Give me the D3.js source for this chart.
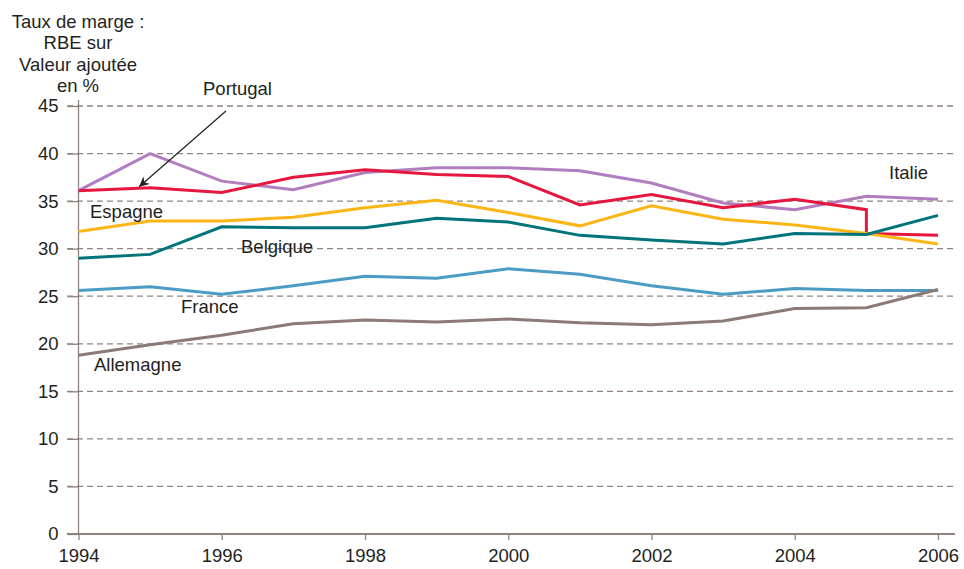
<!doctype html>
<html lang="fr">
<head>
    <meta charset="UTF-8">
    <title>Taux de marge</title>
    <style>
        body { margin: 0; background: #fff; }
        text { font-family: "Liberation Sans", Arial, sans-serif; fill: #231f20; }
    </style>
</head>
<body>
<div id="chart"></div>
<script src="https://d3js.org/d3.v7.min.js"></script>
<script>
    // Data
    const years = [1994, 1995, 1996, 1997, 1998, 1999, 2000, 2001, 2002, 2003, 2004, 2005, 2006]
    const italie    = [36.1, 40.0, 37.1, 36.2, 38.0, 38.5, 38.5, 38.2, 36.9, 34.8, 34.1, 35.5, 35.2]
    const espagne   = [31.8, 32.9, 32.9, 33.3, 34.3, 35.1, 33.8, 32.4, 34.5, 33.1, 32.5, 31.6, 30.5]
    const belgique  = [29.0, 29.4, 32.3, 32.2, 32.2, 33.2, 32.8, 31.4, 30.9, 30.5, 31.6, 31.5, 33.5]
    const france    = [25.6, 26.0, 25.2, 26.1, 27.1, 26.9, 27.9, 27.3, 26.1, 25.2, 25.8, 25.6, 25.6]
    const allemagne = [18.8, 19.9, 20.9, 22.1, 22.5, 22.3, 22.6, 22.2, 22.0, 22.4, 23.7, 23.8, 25.7]
    // Portugal has a break in 2005 (two values that year)
    const portugalYears = [1994, 1995, 1996, 1997, 1998, 1999, 2000, 2001, 2002, 2003, 2004, 2005, 2005, 2006]
    const portugal      = [36.1, 36.4, 35.9, 37.5, 38.3, 37.8, 37.6, 34.6, 35.7, 34.3, 35.2, 34.1, 31.6, 31.4]

    const yTicks = [0, 5, 10, 15, 20, 25, 30, 35, 40, 45]
    const xTicks = [1994, 1996, 1998, 2000, 2002, 2004, 2006]
    const titleLines = ['Taux de marge :', 'RBE sur', 'Valeur ajoutée', 'en %']

    const series = [
        {name: 'Italie', xs: years, ys: italie, color: '#b27dbf'},
        {name: 'Portugal', xs: portugalYears, ys: portugal, color: '#e5173f'},
        {name: 'Espagne', xs: years, ys: espagne, color: '#fbb615'},
        {name: 'Belgique', xs: years, ys: belgique, color: '#00747a'},
        {name: 'France', xs: years, ys: france, color: '#4b9bc4'},
        {name: 'Allemagne', xs: years, ys: allemagne, color: '#8b7a76'}
    ]

    const W = 964, H = 569
    const gridColor = '#8f8380'

    const svg = d3.select('#chart').append('svg')
        .attr('width', W).attr('height', H)

    const x = d3.scaleLinear().domain([1994, 2006]).range([78.5, 938])
    const y = d3.scaleLinear().domain([0, 45]).range([534, 106])

    // gridlines
    svg.append('g')
        .selectAll('line')
        .data(yTicks.filter(d => d > 0))
        .join('line')
            .attr('x1', 67).attr('x2', 955)
            .attr('y1', d => y(d)).attr('y2', d => y(d))
            .attr('stroke', gridColor)
            .attr('stroke-width', 1.3)
            .attr('stroke-dasharray', '6,4')

    // y axis
    const yAxis = svg.append('g')
        .attr('transform', 'translate(' + x(1994) + ',0)')
        .call(d3.axisLeft(y).tickValues(yTicks).tickSize(11).tickPadding(9))
    yAxis.select('.domain').attr('d', 'M0,' + y(0) + 'V' + (y(45) - 6))
    yAxis.selectAll('line, path').attr('stroke', gridColor).attr('stroke-width', 1.3)
    yAxis.selectAll('text').style('font-size', '18.5px').attr('fill', '#231f20')
        .attr('font-family', '"Liberation Sans", Arial, sans-serif')

    // x axis
    const xAxis = svg.append('g')
        .attr('transform', 'translate(0,' + y(0) + ')')
        .call(d3.axisBottom(x).tickValues(xTicks).tickFormat(d3.format('d')).tickSize(6).tickPadding(9))
    xAxis.select('.domain').attr('d', 'M67,0H955')
    xAxis.selectAll('line, path').attr('stroke', gridColor).attr('stroke-width', 2)
    xAxis.selectAll('line').attr('stroke-width', 1.3)
    xAxis.selectAll('text').style('font-size', '18.5px').attr('fill', '#231f20')
        .attr('font-family', '"Liberation Sans", Arial, sans-serif')

    // lines
    const line = d3.line().x(d => x(d[0])).y(d => y(d[1]))
    svg.append('g')
        .selectAll('path')
        .data(series)
        .join('path')
            .attr('d', s => line(s.xs.map((v, i) => [v, s.ys[i]])))
            .attr('fill', 'none')
            .attr('stroke', s => s.color)
            .attr('stroke-width', 3)
            .attr('stroke-linejoin', 'miter')

    // y title
    svg.append('g').selectAll('text')
        .data(titleLines)
        .join('text')
            .attr('x', 78)
            .attr('y', (d, i) => 28 + i * 21.3)
            .attr('text-anchor', 'middle')
            .style('font-size', '18.5px')
            .text(d => d)

    // series labels
    const labels = [
        {t: 'Portugal', x: 203, y: 95},
        {t: 'Espagne', x: 90, y: 218},
        {t: 'Belgique', x: 241, y: 253},
        {t: 'France', x: 181, y: 313},
        {t: 'Allemagne', x: 94, y: 371},
        {t: 'Italie', x: 889, y: 179}
    ]
    svg.append('g').selectAll('text')
        .data(labels)
        .join('text')
            .attr('x', d => d.x).attr('y', d => d.y)
            .style('font-size', '18.5px')
            .text(d => d.t)

    // arrow towards Portugal
    svg.append('defs').append('marker')
        .attr('id', 'arrow')
        .attr('viewBox', '0 0 10 10')
        .attr('refX', 10).attr('refY', 5)
        .attr('markerWidth', 10).attr('markerHeight', 10)
        .attr('markerUnits', 'userSpaceOnUse')
        .attr('orient', 'auto')
        .append('path')
            .attr('d', 'M0,0L10,5L0,10L3,5Z')
            .attr('fill', '#231f20')
    svg.append('line')
        .attr('x1', 226).attr('y1', 111)
        .attr('x2', x(1995) - 11).attr('y2', y(36.4) - 1)
        .attr('stroke', '#231f20')
        .attr('stroke-width', 1.2)
        .attr('marker-end', 'url(#arrow)')
</script>
</body>
</html>
